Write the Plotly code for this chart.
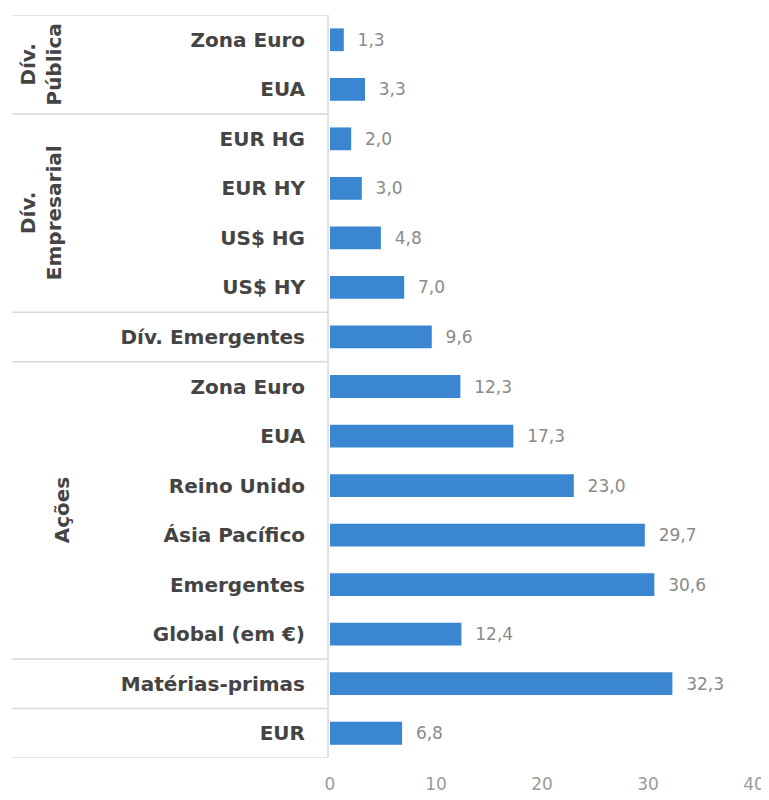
import plotly.graph_objects as go

categories = ["Zona Euro", "EUA", "EUR HG", "EUR HY", "US$ HG", "US$ HY",
              "Dív. Emergentes", "Zona Euro", "EUA", "Reino Unido", "Ásia Pacífico",
              "Emergentes", "Global (em €)", "Matérias-primas", "EUR"]
values = [1.3, 3.3, 2.0, 3.0, 4.8, 7.0, 9.6, 12.3, 17.3, 23.0, 29.7, 30.6, 12.4, 32.3, 6.8]
groups = [("Dív.<br>Pública", 2), ("Dív.<br>Empresarial", 4), ("", 1),
          ("Ações", 6), ("", 1), ("", 1)]
x_ticks = [0, 10, 20, 30, 40]

# page body has an 8px offset
W, H = 761, 792
ml, mr, mt, mb = 322, 15, 7, 42
plot_w = W - ml - mr

ypos = list(range(len(categories)))
FONT = "DejaVu Sans"

fig = go.Figure()
fig.add_trace(go.Bar(
    x=values, y=ypos, orientation="h",
    marker=dict(color="#3A86D1", line=dict(width=0)),
    width=0.46,
    text=["\u00a0\u00a0" + f"{v:.1f}".replace(".", ",") for v in values],
    textposition="outside",
    textfont=dict(family=FONT, size=17, color="#8a8a8a"),
    cliponaxis=False,
    hoverinfo="skip",
))

line_color = "#d9d9d9"
shapes = []
annotations = []
start = -0.5
x_left = (12 - 8 - ml) / plot_w
x_right = -2 / plot_w
shapes.append(dict(type="line", xref="paper", yref="y", x0=x_left, x1=x_right,
                   y0=start, y1=start, line=dict(color=line_color, width=1.5)))
for label, n in groups:
    end = start + n
    shapes.append(dict(type="line", xref="paper", yref="y", x0=x_left, x1=x_right,
                       y0=end, y1=end, line=dict(color=line_color, width=1.5)))
    if label:
        xc = (41 if "<br>" in label else 62) - 8
        annotations.append(dict(
            x=(xc - ml) / plot_w, xref="paper", y=(start + end) / 2, yref="y",
            text=f"<b>{label}</b>", showarrow=False, textangle=-90,
            font=dict(family=FONT, size=20, color="#444444"),
            xanchor="center", yanchor="middle"))
    start = end
shapes.append(dict(type="line", xref="paper", yref="y", x0=x_right, x1=x_right,
                   y0=-0.5, y1=len(categories) - 0.5, line=dict(color=line_color, width=1.5)))

fig.update_layout(
    width=W, height=H,
    margin=dict(l=ml, r=mr, t=mt, b=mb, autoexpand=False),
    paper_bgcolor="white", plot_bgcolor="white",
    showlegend=False,
    shapes=shapes, annotations=annotations,
    xaxis=dict(range=[0, 40], tickvals=x_ticks, showgrid=False, zeroline=False,
               showline=False, ticks="outside", ticklen=11, tickcolor="rgba(0,0,0,0)",
               automargin=False,
               tickfont=dict(family=FONT, size=17, color="#9a9a9a")),
    yaxis=dict(tickvals=ypos, ticktext=[f"<b>{c}</b>" for c in categories],
               range=[len(categories) - 0.5, -0.5], showgrid=False, zeroline=False,
               showline=False, ticks="", ticklabelstandoff=24, automargin=False,
               tickfont=dict(family=FONT, size=20, color="#444444")),
)

fig.write_html("out.html")
